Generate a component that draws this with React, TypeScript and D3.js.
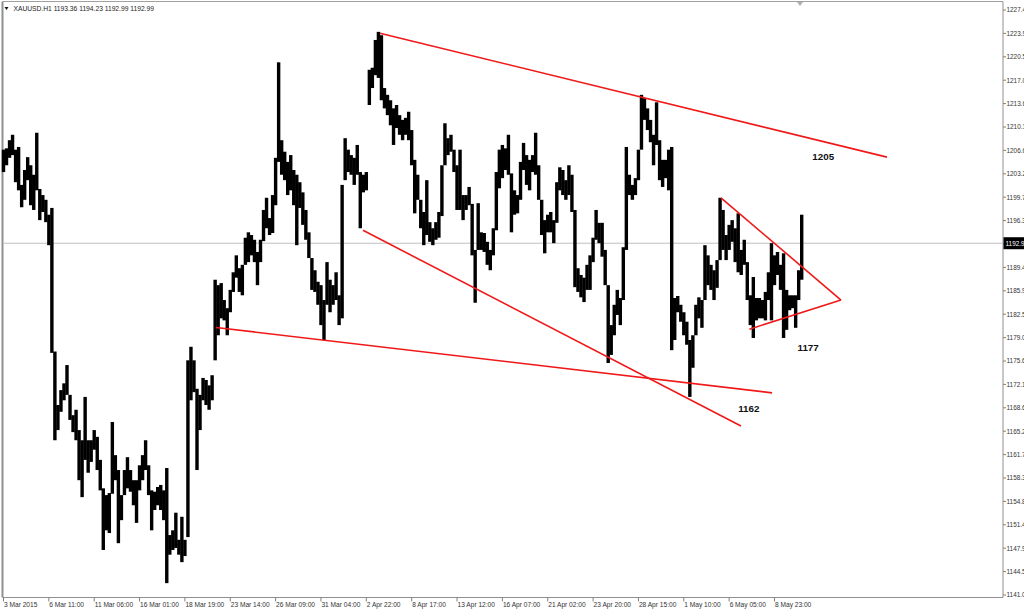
import React, { useEffect } from "react";
import * as d3 from "d3";

const symbolHeader = "XAUUSD.H1 1193.36 1194.23 1192.99 1192.99";
const lastPrice = 1192.99;

const barHigh = [
  1206.8, 1207.0, 1208.2, 1209.0, 1206.8, 1207.2, 1201.6, 1203.8, 1205.7, 1204.5,
  1203.1, 1209.3, 1201.0, 1200.1, 1199.4, 1197.2, 1198.2, 1177.0, 1169.1, 1171.3,
  1172.3, 1175.0, 1170.6, 1167.6, 1168.4, 1165.4, 1163.9, 1170.3, 1163.9, 1163.9,
  1165.4, 1164.4, 1161.0, 1156.8, 1155.8, 1156.1, 1166.6, 1161.7, 1159.5, 1155.8,
  1159.5, 1161.4, 1159.5, 1158.0, 1158.0, 1160.2, 1161.7, 1163.9, 1160.2, 1156.5,
  1156.3, 1157.0, 1157.3, 1156.5, 1159.8, 1149.9, 1150.6, 1153.2, 1149.2, 1152.6,
  1149.2, 1175.7, 1177.7, 1175.7, 1171.5, 1170.6, 1173.1, 1172.8, 1172.0, 1173.5,
  1187.6, 1186.8, 1187.1, 1184.6, 1183.4, 1186.1, 1188.7, 1191.2, 1189.3, 1189.8,
  1193.8, 1194.6, 1194.2, 1193.5, 1191.7, 1193.5, 1197.9, 1199.7, 1196.7, 1200.1,
  1205.6, 1219.7, 1208.2, 1206.5, 1205.0, 1206.0, 1203.8, 1203.1, 1202.0, 1200.5,
  1197.9, 1194.6, 1190.8, 1189.0, 1187.3, 1186.8, 1184.6, 1190.2, 1187.6, 1186.8,
  1188.7, 1185.3, 1201.6, 1208.5, 1206.8, 1206.0, 1205.6, 1207.5, 1203.5, 1203.1,
  1203.5, 1218.6, 1218.9, 1223.0, 1224.2, 1223.7, 1215.9, 1214.9, 1214.1, 1212.9,
  1213.4, 1211.9, 1211.2, 1211.5, 1212.4, 1209.7, 1205.3, 1203.1, 1199.4, 1197.6,
  1202.3, 1196.1, 1195.2, 1196.1, 1197.6, 1204.5, 1210.7, 1208.5, 1209.0, 1206.8,
  1204.5, 1206.8, 1200.1, 1200.1, 1201.3, 1198.8, 1192.0, 1198.9, 1194.6, 1194.5,
  1193.2, 1192.0, 1195.2, 1203.5, 1206.8, 1207.5, 1207.0, 1209.0, 1203.3, 1200.8,
  1200.1, 1205.0, 1207.8, 1206.0, 1205.3, 1206.0, 1209.3, 1204.5, 1199.4, 1196.4,
  1197.2, 1197.6, 1196.4, 1202.0, 1204.2, 1203.8, 1202.3, 1204.5, 1203.1, 1197.9,
  1189.3, 1188.3, 1187.9, 1189.8, 1191.2, 1193.8, 1197.9, 1196.0, 1196.0, 1192.0,
  1186.8, 1180.9, 1183.9, 1186.1, 1184.9, 1192.4, 1207.2, 1203.1, 1201.6, 1202.6,
  1206.8, 1214.9, 1214.4, 1212.9, 1211.2, 1209.0, 1213.8, 1208.2, 1205.3, 1205.3,
  1206.8, 1207.2, 1184.9, 1185.2, 1183.9, 1182.8, 1181.4, 1178.7, 1179.4, 1183.9,
  1185.0, 1184.6, 1192.7, 1191.2, 1189.8, 1189.0, 1190.5, 1199.7, 1197.9, 1194.2,
  1195.7, 1196.4, 1195.2, 1197.4, 1192.0, 1193.5, 1190.2, 1185.3, 1188.0, 1184.9,
  1184.9, 1184.6, 1185.8, 1188.7, 1193.0, 1191.2, 1191.7, 1189.8, 1191.5, 1186.1,
  1185.3, 1185.3, 1185.3, 1189.0, 1197.2,
];

const barLow = [
  1203.5, 1204.5, 1205.6, 1206.0, 1202.0, 1200.8, 1198.3, 1199.4, 1202.3, 1198.6,
  1197.9, 1200.8, 1196.4, 1197.6, 1196.1, 1192.7, 1176.8, 1163.9, 1165.4, 1168.1,
  1169.8, 1170.6, 1166.9, 1165.1, 1163.9, 1158.0, 1155.5, 1161.0, 1159.1, 1160.7,
  1162.5, 1159.5, 1156.5, 1147.7, 1150.6, 1150.2, 1156.0, 1158.0, 1148.7, 1152.1,
  1155.8, 1156.8, 1156.3, 1154.3, 1151.7, 1156.5, 1158.0, 1159.5, 1155.8, 1150.6,
  1153.6, 1154.3, 1153.6, 1152.1, 1142.8, 1147.0, 1147.7, 1148.0, 1147.0, 1145.9,
  1146.8, 1149.6, 1169.8, 1171.0, 1159.5, 1165.4, 1169.8, 1169.1, 1168.4, 1169.8,
  1175.7, 1179.4, 1181.9, 1181.6, 1179.4, 1182.8, 1185.8, 1187.9, 1185.8, 1185.3,
  1189.8, 1190.2, 1191.2, 1190.2, 1186.8, 1190.2, 1193.3, 1195.2, 1194.2, 1194.5,
  1198.6, 1205.0, 1203.1, 1202.3, 1200.1, 1200.8, 1198.6, 1192.7, 1198.2, 1195.7,
  1193.5, 1190.8, 1186.1, 1185.8, 1183.9, 1180.9, 1178.7, 1183.9, 1182.8, 1183.9,
  1184.6, 1180.9, 1181.9, 1202.3, 1203.5, 1203.1, 1201.6, 1203.1, 1195.2, 1200.5,
  1200.8, 1213.4, 1215.9, 1217.8, 1217.4, 1214.1, 1212.9, 1211.9, 1210.4, 1207.5,
  1210.0, 1209.0, 1208.2, 1209.0, 1208.2, 1204.5, 1197.4, 1199.4, 1195.2, 1192.7,
  1194.2, 1193.2, 1192.7, 1193.5, 1193.8, 1197.0, 1204.5, 1206.0, 1206.5, 1203.5,
  1197.9, 1197.9, 1196.4, 1197.9, 1198.6, 1191.2, 1184.2, 1192.0, 1192.0, 1191.7,
  1189.8, 1189.0, 1191.2, 1194.9, 1201.1, 1202.6, 1203.8, 1203.1, 1194.6, 1197.2,
  1197.4, 1199.4, 1203.8, 1201.6, 1200.8, 1203.5, 1203.1, 1199.4, 1194.2, 1191.5,
  1194.6, 1194.6, 1193.0, 1196.0, 1200.8, 1200.1, 1199.4, 1200.1, 1197.6, 1186.5,
  1185.8, 1185.0, 1184.3, 1186.1, 1186.1, 1190.2, 1193.5, 1193.0, 1191.0, 1186.8,
  1175.3, 1176.5, 1179.4, 1182.4, 1180.9, 1184.6, 1192.0, 1200.1, 1199.4, 1200.1,
  1202.3, 1206.8, 1211.2, 1209.7, 1207.9, 1204.5, 1207.5, 1202.3, 1201.3, 1202.6,
  1200.8, 1177.2, 1178.7, 1182.8, 1181.4, 1179.4, 1178.0, 1170.3, 1174.6, 1179.4,
  1181.9, 1180.5, 1184.6, 1186.8, 1186.1, 1184.6, 1186.4, 1190.5, 1192.0, 1190.5,
  1192.0, 1193.2, 1190.2, 1188.7, 1188.3, 1189.8, 1184.6, 1180.9, 1179.0, 1181.6,
  1181.9, 1181.9, 1181.6, 1184.6, 1181.6, 1186.8, 1188.3, 1186.1, 1179.0, 1180.2,
  1183.1, 1183.4, 1180.5, 1184.6, 1187.6,
];

const timeLabels = [
  "3 Mar 2015", "6 Mar 11:00", "11 Mar 06:00", "16 Mar 01:00", "18 Mar 19:00",
  "23 Mar 14:00", "26 Mar 09:00", "31 Mar 04:00", "2 Apr 22:00", "8 Apr 17:00",
  "13 Apr 12:00", "16 Apr 07:00", "21 Apr 02:00", "23 Apr 20:00", "28 Apr 15:00",
  "1 May 10:00", "6 May 05:00", "8 May 23:00",
];
const barsPerTimeLabel = 15;

const priceTickStart = 1141.05;
const priceTickStep = 3.455;
const priceTickCount = 26;

// trendlines in (bar index, price)
const trendStartIndex = [124.5, 118.9, 70.3, 237.3, 246.7];
const trendStartPrice = [1224.0, 1194.9, 1180.55, 1199.7, 1180.3];
const trendEndIndex = [292.2, 243.9, 254.2, 277.0, 277.0];
const trendEndPrice = [1205.7, 1166.0, 1170.9, 1184.6, 1184.6];

const noteText = ["1205", "1162", "1177"];
const noteIndex = [267.5, 243.0, 262.6];
const notePrice = [1205.3, 1168.0, 1177.1];

const truncate1 = (v: number) => (Math.floor(v * 10) / 10).toFixed(1);

export default function App() {
  useEffect(() => {
    document.body.style.margin = "0";
  }, []);

  const W = 1024;
  const H = 612;
  const plotL = 2.5;
  const plotR = 1003;
  const plotT = 1.5;
  const plotB = 597.5;

  const x = d3.scaleLinear().domain([0, barHigh.length - 1]).range([3.5, 3.5 + (barHigh.length - 1) * 3.0235]);
  const y = d3
    .scaleLinear()
    .domain([priceTickStart, priceTickStart + (priceTickCount - 1) * priceTickStep])
    .range([595, 10]);
  const bw = 3.4;

  const priceTicks = d3.range(priceTickCount).map((k) => priceTickStart + k * priceTickStep);
  const lastY = y(lastPrice);

  const font = "'Liberation Sans', Arial, sans-serif";

  return (
    <svg width={W} height={H} style={{ display: "block", position: "absolute", left: 0, top: 0, background: "#fff" }}>
      <rect x={0} y={0} width={W} height={H} fill="#ffffff" />
      {/* plot frame */}
      <line x1={plotL} y1={plotT} x2={plotR} y2={plotT} stroke="#a0a0a0" strokeWidth={1} />
      <line x1={plotL} y1={plotT} x2={plotL} y2={plotB} stroke="#909090" strokeWidth={2} />
      <line x1={plotR} y1={plotT} x2={plotR} y2={plotB} stroke="#909090" strokeWidth={1} />
      <line x1={plotL} y1={plotB} x2={plotR} y2={plotB} stroke="#909090" strokeWidth={1} />

      {/* chart shift marker */}
      <polygon points="797,2 803,2 800,6" fill="#b0b0b0" />

      {/* current price line */}
      <line x1={plotL + 1} y1={lastY} x2={plotR} y2={lastY} stroke="#c0c0c0" strokeWidth={1} />

      {/* bars */}
      <g fill="#000">
        {barHigh.map((h, i) => (
          <rect
            key={i}
            x={x(i) - bw / 2}
            y={y(h)}
            width={bw}
            height={Math.max(1, y(barLow[i]) - y(h))}
          />
        ))}
      </g>

      {/* trendlines */}
      <g stroke="#f01818" strokeWidth={1.6} fill="none">
        {trendStartIndex.map((s, k) => (
          <line key={k} x1={x(s)} y1={y(trendStartPrice[k])} x2={x(trendEndIndex[k])} y2={y(trendEndPrice[k])} />
        ))}
      </g>

      {/* notes */}
      {noteText.map((t, k) => (
        <text key={k} x={x(noteIndex[k])} y={y(notePrice[k])} fontFamily={font} fontWeight="bold" fontSize={9.8} fill="#111">
          {t}
        </text>
      ))}

      {/* header */}
      <polygon points="4.5,7 8.5,7 6.5,10" fill="#111" />
      <text x={13.5} y={10.6} fontFamily={font} fontSize={6.7} fill="#222">
        {symbolHeader}
      </text>

      {/* price axis */}
      {priceTicks.map((p, k) => (
        <g key={k}>
          <line x1={plotR} x2={plotR + 3} y1={y(p)} y2={y(p)} stroke="#808080" strokeWidth={1} />
          <text x={1006.5} y={y(p) + 2.4} fontFamily={font} fontSize={6.4} fill="#333">
            {truncate1(p)}
          </text>
        </g>
      ))}
      <rect x={plotR + 0.5} y={lastY - 6} width={W - plotR} height={12} fill="#000" />
      <text x={1005.5} y={lastY + 2.4} fontFamily={font} fontSize={6.4} fill="#fff">
        {truncate1(lastPrice)}
      </text>

      {/* time axis */}
      {timeLabels.map((t, k) => {
        const xi = x(k * barsPerTimeLabel);
        return (
          <g key={k}>
            <line x1={xi} x2={xi} y1={plotB} y2={plotB + 4} stroke="#808080" strokeWidth={1} />
            <text x={xi + 0.5} y={607} fontFamily={font} fontSize={6.6} fill="#333">
              {t}
            </text>
          </g>
        );
      })}
    </svg>
  );
}
